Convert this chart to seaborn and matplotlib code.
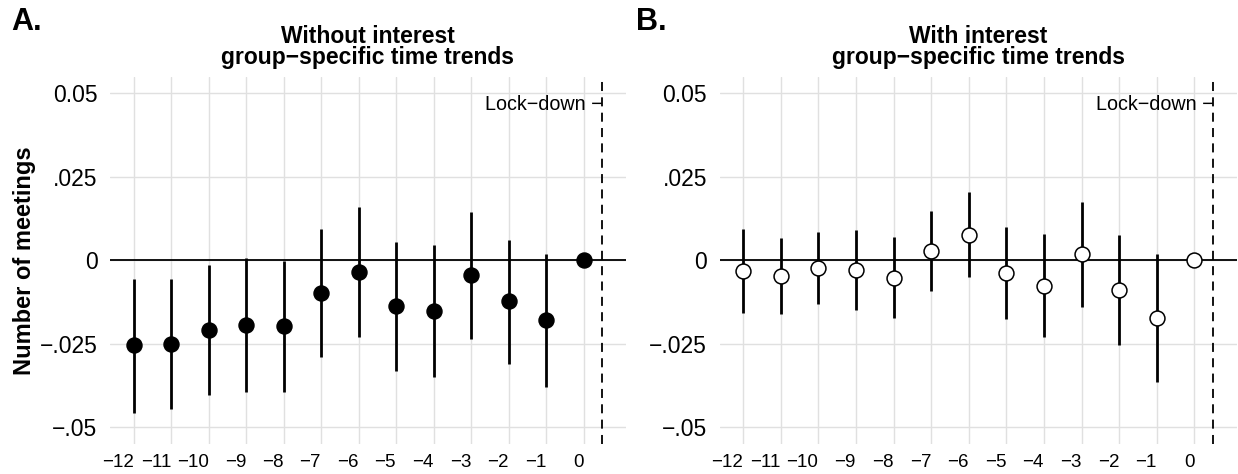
import numpy as np
import pandas as pd
import matplotlib
matplotlib.use("Agg")
import matplotlib.pyplot as plt
import seaborn as sns

# months relative to lock-down
months = [-12, -11, -10, -9, -8, -7, -6, -5, -4, -3, -2, -1, 0]

# panel A: without interest group-specific time trends
est_a = [-0.0254, -0.0250, -0.0209, -0.0194, -0.0197, -0.0098, -0.0034,
         -0.0138, -0.0152, -0.0045, -0.0123, -0.0180, 0.0]
lo_a = [-0.0456, -0.0445, -0.0404, -0.0395, -0.0393, -0.0290, -0.0228,
        -0.0331, -0.0348, -0.0234, -0.0309, -0.0380, np.nan]
hi_a = [-0.0055, -0.0055, -0.0014, 0.0006, -0.0003, 0.0095, 0.0159,
        0.0056, 0.0045, 0.0145, 0.0062, 0.0019, np.nan]

# panel B: with interest group-specific time trends
est_b = [-0.0033, -0.0047, -0.0023, -0.0028, -0.0053, 0.0029, 0.0076,
         -0.0038, -0.0076, 0.0018, -0.0089, -0.0173, 0.0]
lo_b = [-0.0159, -0.0162, -0.0130, -0.0148, -0.0173, -0.0093, -0.0051,
        -0.0176, -0.0229, -0.0141, -0.0253, -0.0364, np.nan]
hi_b = [0.0095, 0.0067, 0.0086, 0.0092, 0.0070, 0.0149, 0.0204,
        0.0099, 0.0079, 0.0176, 0.0075, 0.0019, np.nan]

titles = ["Without interest\ngroup\u2212specific time trends",
          "With interest\ngroup\u2212specific time trends"]
panel_tags = ["A.", "B."]
ytick_vals = [-0.05, -0.025, 0, 0.025, 0.05]
ytick_labels = ["\u2212.05", "\u2212.025", "0", ".025", "0.05"]
lockdown_x = 0.5

sns.set_style("white", {"text.color": "black", "xtick.color": "black",
                        "ytick.color": "black", "axes.labelcolor": "black"})
plt.rcParams['font.family'] = ['Liberation Sans', 'DejaVu Sans']

fig = plt.figure(figsize=(12.38, 4.74), dpi=100)
ax_a = fig.add_axes([0.0889, 0.0633, 0.4166, 0.7747])
ax_b = fig.add_axes([0.5813, 0.0633, 0.4176, 0.7747])

panels = [
    (ax_a, est_a, lo_a, hi_a, "black"),
    (ax_b, est_b, lo_b, hi_b, "white"),
]

for i, (ax, est, lo, hi, face) in enumerate(panels):
    df = pd.DataFrame({"month": months, "est": est, "lo": lo, "hi": hi})

    ax.grid(True, color="#e0e0e0", lw=1.0)
    ax.set_axisbelow(True)
    ax.axhline(0, color="black", lw=1.3, zorder=1)
    ax.axvline(lockdown_x, color="black", lw=1.3, ls=(0, (5, 3.5)), zorder=1)

    # confidence intervals, then point estimates
    ci = df.dropna()
    ax.vlines(ci["month"], ci["lo"], ci["hi"], color="black", lw=2.0, zorder=2)
    sns.scatterplot(data=df, x="month", y="est", ax=ax, s=115,
                    color=face, edgecolor="black", linewidth=1.1,
                    zorder=3, legend=False)

    ax.text(lockdown_x, 0.0466, "Lock\u2212down \u2212", ha="right", va="center",
            fontsize=14.2, color="black")

    ax.set_xlim(-12.625, 1.125)
    ax.set_ylim(-0.055, 0.055)
    ax.set_xticks(months)
    ax.set_xticklabels([str(m).replace("-", "\u2212") for m in months],
                       fontsize=13.5, ha="right")
    ax.set_yticks(ytick_vals)
    ax.set_yticklabels(ytick_labels, fontsize=16.5)
    ax.tick_params(axis="x", length=0, pad=7)
    ax.tick_params(axis="y", length=0, pad=9)
    ax.set_xlabel("")
    ax.set_ylabel("")
    sns.despine(ax=ax, left=True, bottom=True)
    ax.set_title(titles[i], fontsize=16.5, fontweight="bold", linespacing=0.92,
                 pad=9, color="black")

ax_a.set_ylabel("Number of meetings", fontsize=17, fontweight="bold", labelpad=3)

fig.text(0.009, 0.985, panel_tags[0], fontsize=22, fontweight="bold", va="top", ha="left")
fig.text(0.514, 0.985, panel_tags[1], fontsize=22, fontweight="bold", va="top", ha="left")

fig.savefig("out.png", dpi=100)
